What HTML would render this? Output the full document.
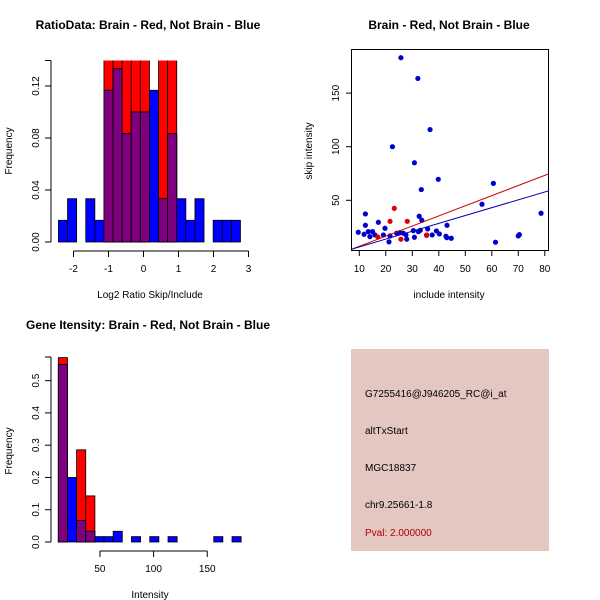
<!DOCTYPE html>
<html><head><meta charset="utf-8"><style>
body{margin:0;background:#fff}
svg{display:block;font-family:"Liberation Sans",sans-serif}
</style></head><body>
<svg id="c" width="600" height="600" viewBox="0 0 600 600">
<rect width="600" height="600" fill="#fff"/>
</svg>
<script>
// ---- Panel 1: ratio histogram ----
const ratioBinStart = -2.43;
const ratioBinWidth = 0.26;
const ratioBlue = [0.0167,0.0333,0,0.0333,0.0167,0.1167,0.1333,0.0833,0.1,0.1,0.1167,0.0333,0.0833,0.0333,0.0167,0.0333,0,0.0167,0.0167,0.0167];
const ratioRed  = [0,0,0,0,0,0.1429,0.1429,0.1429,0.1429,0.1429,0,0.1429,0.1429,0,0,0,0,0,0,0];
const ratioXTicks = [-2,-1,0,1,2,3];
const ratioYTicks = [0,0.04,0.08,0.12];
// ---- Panel 2: scatter ----
const blueInc = [25.7,32.1,36.7,22.5,30.8,39.8,33.4,60.6,56.3,78.6,12.3,12.3,9.6,11.8,17.2,19.7,13.4,15.0,14.0,15.9,19.1,21.2,21.6,24.1,25.3,26.6,27.6,27.9,30.4,30.8,32.3,33.0,32.6,33.6,35.4,35.8,37.5,39.1,40.2,42.7,43.1,43.0,44.7,61.4,70.0,70.4];
const blueSkip = [183,163.7,116,100,85,69.6,60,65.8,46.3,37.9,37.3,26.7,20.2,18.3,29.5,23.9,20.8,20.8,16.1,17.7,17.7,11.2,16.8,19.3,19.9,19.3,17.7,13.7,21.7,15.5,20.8,22.0,35.1,31.4,17.4,23.3,17.7,21.4,18.6,16.5,26.7,15.2,14.6,10.9,16.8,18.0];
const redInc = [21.6,23.2,28.1,17.0,25.7,35.4];
const redSkip = [30.4,42.5,30.4,15.8,13.7,17.7];
const redFit = [-2.36,0.945];
const blueFit = [-0.85,0.733];
const scXTicks = [10,20,30,40,50,60,70,80];
const scYTicks = [50,100,150];
// ---- Panel 3: intensity histogram ----
const intBinStart = 11.2;
const intBinWidth = 8.52;
const intBlue = [0.55,0.2,0.0667,0.0333,0.0167,0.0167,0.0333,0,0.0167,0,0.0167,0,0.0167,0,0,0,0,0.0167,0,0.0167];
const intRed  = [0.5714,0,0.2857,0.1429,0,0,0,0,0,0,0,0,0,0,0,0,0,0,0,0];
const intXTicks = [50,100,150];
const intYTicks = [0,0.1,0.2,0.3,0.4,0.5];

const svg = document.getElementById('c');
const NS = 'http://www.w3.org/2000/svg';
function mk(tag, attrs, parent){
  const e = document.createElementNS(NS, tag);
  for (const k in attrs) e.setAttribute(k, attrs[k]);
  (parent||svg).appendChild(e);
  return e;
}
function txt(x,y,s,size,opts){
  const t = mk('text',Object.assign({x:x,y:y,'font-size':size,'text-anchor':'middle'},opts||{}));
  t.textContent = s;
  return t;
}

function histogram(name, start, width, blue, red, xs, ys, xTicks, yTicks, yFmt, yTop){
  const g = mk('g',{});
  
  
  const clipId = name+'-clip';
  const cp = mk('clipPath',{id:clipId},g);
  mk('rect',{x:0,y:yTop,width:600,height:600},cp);
  const bars = mk('g',{'clip-path':'url(#'+clipId+')'},g);
  const y0 = ys(0);
  for (let i=0;i<blue.length;i++){
    const xa = xs(start+i*width), xb = xs(start+(i+1)*width);
    const r = red[i], b = blue[i], m = Math.min(r,b);
    if (r>0){ const e=mk('rect',{x:xa,y:ys(r),width:xb-xa,height:y0-ys(r),fill:'#ff0000',stroke:'#000','stroke-width':0.8},bars);
        }
    if (b>0){ const e=mk('rect',{x:xa,y:ys(b),width:xb-xa,height:y0-ys(b),fill:'#0000ff',stroke:'#000','stroke-width':0.8},bars);
        }
    if (m>0){ const e=mk('rect',{x:xa,y:ys(m),width:xb-xa,height:y0-ys(m),fill:'#7f007f',stroke:'#000','stroke-width':0.8},bars);
        }
  }
  // x axis
  const ax = xTicks[0], bx = xTicks[xTicks.length-1];
  const xa = mk('g',{},g);
  
  
  mk('line',{x1:xs(ax),x2:xs(bx),y1:y0+9,y2:y0+9,stroke:'#000'},xa);
  xTicks.forEach(v=>{ mk('line',{x1:xs(v),x2:xs(v),y1:y0+9,y2:y0+15,stroke:'#000'},xa);
    txt(xs(v),y0+30,String(v),10); });
  // y axis
  const ya = mk('g',{},g);
  
  
  const axX = 51;
  mk('line',{x1:axX,x2:axX,y1:ys(yTicks[0]),y2:yTop,stroke:'#000'},ya);
  yTicks.concat([]).forEach(v=>{ mk('line',{x1:axX-6,x2:axX,y1:ys(v),y2:ys(v),stroke:'#000'},ya);
    txt(axX-12,ys(v),yFmt(v),10,{transform:'rotate(-90 '+(axX-12)+' '+ys(v)+')'}); });
  mk('line',{x1:axX-6,x2:axX,y1:yTop,y2:yTop,stroke:'#000'},ya);
}

// Panel 1
const xs1 = v => 143.5 + v*35;
const ys1 = v => 242 - v*1300;
histogram('ratio-histogram', ratioBinStart, ratioBinWidth, ratioBlue, ratioRed, xs1, ys1, ratioXTicks, ratioYTicks, v=>v.toFixed(2), 60.5);
txt(148,29,'RatioData: Brain - Red, Not Brain - Blue',12,{'font-weight':'bold'});
txt(150,298,'Log2 Ratio Skip/Include',10);
txt(12,151,'Frequency',10,{transform:'rotate(-90 12 151)'});

// Panel 3
const xs3 = v => 46.3 + v*1.073;
const ys3 = v => 542 - v*322.7;
histogram('intensity-histogram', intBinStart, intBinWidth, intBlue, intRed, xs3, ys3, intXTicks, intYTicks, v=>v.toFixed(1), 357);
txt(148,329,'Gene Itensity: Brain - Red, Not Brain - Blue',12,{'font-weight':'bold'});
txt(150,598,'Intensity',10);
txt(12,451,'Frequency',10,{transform:'rotate(-90 12 451)'});

// Panel 2 scatter
const xs2 = v => 359.3 + (v-10)*2.65;
const ys2 = v => 253.9 - v*1.072;
const sg = mk('g',{});


const box = mk('rect',{x:351.5,y:49.5,width:197,height:201,fill:'none',stroke:'#000'},sg);


const scp = mk('clipPath',{id:'scclip'},sg);
mk('rect',{x:351.5,y:49.5,width:197,height:201},scp);
const sIn = mk('g',{'clip-path':'url(#scclip)'},sg);
for (let i=0;i<blueInc.length;i++){
  const p = mk('circle',{cx:xs2(blueInc[i]),cy:ys2(blueSkip[i]),r:2.6,fill:'#0000cc'},sIn);
  
  
}
for (let i=0;i<redInc.length;i++){
  const p = mk('circle',{cx:xs2(redInc[i]),cy:ys2(redSkip[i]),r:2.6,fill:'#dd0000'},sIn);
  
  
}
[[redFit,'#cc0000','red-fit-line'],[blueFit,'#0000aa','blue-fit-line']].forEach(([f,c,n])=>{
  const l = mk('line',{x1:xs2(0),y1:ys2(f[0]),x2:xs2(90),y2:ys2(f[0]+f[1]*90),stroke:c,'stroke-width':1},sIn);
  
  
});
scXTicks.forEach(v=>{ mk('line',{x1:xs2(v),x2:xs2(v),y1:250.5,y2:256,stroke:'#000'},sg); txt(xs2(v),272,String(v),10); });
scYTicks.forEach(v=>{ mk('line',{x1:346,x2:351.5,y1:ys2(v),y2:ys2(v),stroke:'#000'},sg);
  txt(339,ys2(v),String(v),10,{transform:'rotate(-90 339 '+ys2(v)+')'}); });
txt(449,29,'Brain - Red, Not Brain - Blue',12,{'font-weight':'bold'});
txt(449,298,'include intensity',10);
txt(312,151,'skip intensity',10,{transform:'rotate(-90 312 151)'});

// Panel 4 info box
const ib = mk('g',{});


mk('rect',{x:351,y:349,width:198,height:202,fill:'#e5c7c1'},ib);
const lines = ['G7255416@J946205_RC@i_at','altTxStart','MGC18837','chr9.25661-1.8'];
const ly = [397,434,471,508];
lines.forEach((s,i)=>{ const t=txt(365,ly[i],s,10,{'text-anchor':'start'});  });
const pv = txt(365,536,'Pval: 2.000000',10,{'text-anchor':'start',fill:'#b00000'});

</script>
</body></html>
